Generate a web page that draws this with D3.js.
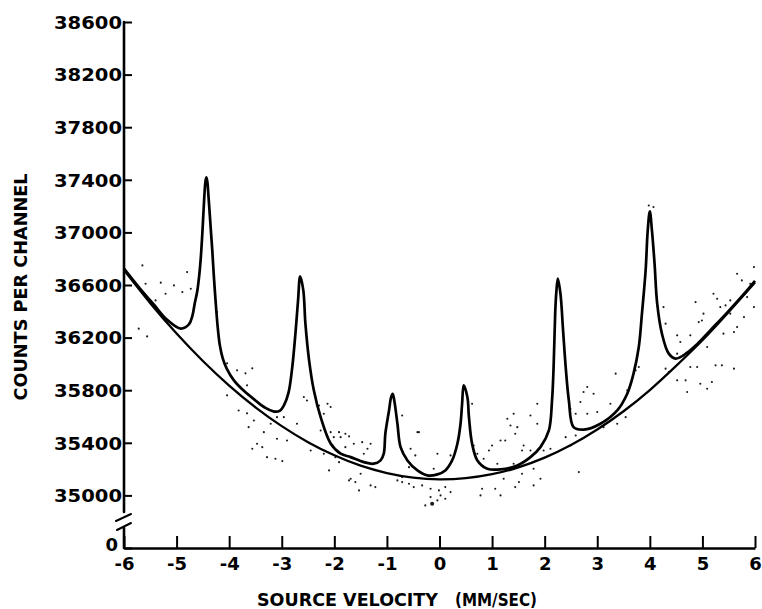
<!DOCTYPE html>
<html>
<head>
<meta charset="utf-8">
<script src="https://cdn.jsdelivr.net/npm/d3@7"></script>
<style>
  html, body { margin: 0; padding: 0; background: #ffffff; }
  svg { display: block; }
  text { font-family: "DejaVu Sans", sans-serif; fill: #000; }
</style>
</head>
<body>
<script>
// ---------------- DATA ----------------
const xTicks = [-6, -5, -4, -3, -2, -1, 0, 1, 2, 3, 4, 5, 6];
const yTicks = [0, 35000, 35400, 35800, 36200, 36600, 37000, 37400, 37800, 38200, 38600];

// parabolic background (velocity, counts)
const baseV = [-6, -5.5, -5, -4.5, -4, -3.5, -3, -2.5, -2, -1.5, -1, -0.5, 0, 0.5, 1, 1.5, 2, 2.5, 3, 3.5, 4, 4.5, 5, 5.5, 6];
const baseC = [36714, 36462, 36231, 36022, 35835, 35670, 35527, 35405, 35305, 35226, 35170, 35135, 35122, 35131, 35161, 35213, 35287, 35383, 35501, 35640, 35801, 35985, 36180, 36395, 36620];

// fitted six-line spectrum (velocity, counts)
const fitV = [-6, -5.7, -5.43, -5.18, -4.92, -4.766, -4.702, -4.654, -4.606, -4.568, -4.540, -4.511, -4.492, -4.473, -4.454, -4.435, -4.416, -4.397, -4.369, -4.344, -4.321, -4.291, -4.259, -4.221, -4.177, -4.122, -4.049, -3.91, -3.72, -3.50, -3.31, -3.16, -3.04, -2.95, -2.87, -2.80, -2.74, -2.69, -2.65, -2.59, -2.55, -2.48, -2.39, -2.26, -2.07, -1.88, -1.69, -1.44, -1.25, -1.12, -1.06, -1.03, -0.96, -0.92, -0.89, -0.86, -0.80, -0.74, -0.61, -0.42, -0.23, -0.04, 0.11, 0.24, 0.34, 0.40, 0.43, 0.46, 0.53, 0.56, 0.62, 0.72, 0.91, 1.16, 1.48, 1.73, 1.92, 2.08, 2.14, 2.17, 2.20, 2.22, 2.25, 2.30, 2.35, 2.40, 2.46, 2.55, 2.74, 3.06, 3.38, 3.57, 3.69, 3.79, 3.85, 3.92, 3.96, 4.00, 4.04, 4.09, 4.14, 4.23, 4.36, 4.49, 4.71, 4.90, 5.15, 5.47, 5.79, 6.0];
const fitC = [36725, 36575, 36450, 36335, 36268, 36300, 36361, 36462, 36555, 36678, 36805, 36988, 37129, 37269, 37377, 37418, 37388, 37297, 37137, 36993, 36863, 36665, 36483, 36293, 36141, 36042, 35966, 35875, 35795, 35722, 35665, 35639, 35643, 35692, 35783, 35976, 36230, 36483, 36665, 36559, 36306, 36027, 35799, 35595, 35395, 35317, 35291, 35253, 35241, 35266, 35317, 35469, 35646, 35748, 35773, 35722, 35545, 35367, 35266, 35190, 35152, 35160, 35190, 35266, 35393, 35545, 35697, 35837, 35748, 35595, 35393, 35266, 35203, 35198, 35228, 35291, 35367, 35494, 35722, 35976, 36384, 36536, 36648, 36534, 36255, 35976, 35722, 35519, 35500, 35545, 35646, 35773, 35926, 36128, 36382, 36711, 37015, 37160, 37015, 36762, 36458, 36230, 36078, 36040, 36085, 36150, 36255, 36390, 36532, 36632];

// measured points (velocity, counts)
const dotV = [-5.65, -5.59, -5.30, -5.05, -4.89, -4.73, -5.21, -5.72, -5.56, -5.40, -4.23, -4.04, -3.85, -3.69, -3.56, -3.66, -4.04, -3.82, -3.66, -3.53, -3.63, -3.34, -3.21, -3.09, -2.96, -3.09, -2.90, -3.47, -3.37, -3.28, -3.12, -2.99, -3.56, -2.52, -2.29, -2.13, -2.20, -2.26, -2.07, -2.01, -2.45, -2.20, -2.10, -2.71, -2.58, -4.80,
  -1.91, -1.79, -1.88, -1.72, -1.63, -1.47, -1.31, -1.37, -1.44, -1.79, -1.98, -1.91, -1.69, -1.60, -1.72, -1.50, -1.31, -1.22, -1.53, -0.80, -0.71, -0.58, -0.49, -0.33, -0.17, -0.01, 0.11, 0.21, 0.02, 0.11, -0.14, -0.27, -0.17, -0.04, -0.42, -0.46, -0.55, -0.04, 0.21, -0.11, -0.58, -0.71, 0.65, 0.72, 0.84, 0.94, 1.00, 1.16, 1.25, 1.35, 1.44, 1.60, 1.57, 1.73, 1.86, 0.84, 1.10, 1.41, 1.22, 1.06, 0.81, 0.78, 1.16, 1.44, 1.51, 1.57, 1.79, 1.92, 1.79, 2.11, 2.40, 2.49, 2.59, 2.65,
  -2.07, -0.71, -0.39, 0.62, 1.41, 1.29, 1.48, 1.86, 1.73, 1.98,
  3.98, 4.07, 4.26, 4.30, 4.52, 4.58, 4.77, 4.87, 4.93, 4.99, 5.02, 5.21, 5.28, 5.34, 5.44, 5.53, 5.66, 5.75, 5.91, 5.98, 5.85, 5.98, 5.79, 5.66, 5.53, 5.40, 5.60, 5.28, 5.09, 4.77, 4.90, 5.25, 5.37, 5.60, 4.52, 4.30, 4.36, 4.52, 4.68, 4.71, 4.96, 5.18, 5.09, 3.35, 3.57, 3.79, 3.73, 2.81, 2.74, 2.93, 2.68, 3.00, 3.25, 3.31, 3.54, 2.49, 2.59, 2.81, 3.38, 3.12];
const dotC = [36749, 36610, 36618, 36597, 36546, 36572, 36534, 36268, 36209, 36483, 36394, 36004, 35951, 35928, 35966, 35837, 35761, 35646, 35624, 35570, 35519, 35481, 35545, 35595, 35595, 35431, 35418, 35393, 35367, 35291, 35279, 35261, 35355, 35722, 35684, 35697, 35621, 35494, 35481, 35443, 35342, 35317, 35190, 35545, 35748, 36698,
  35481, 35469, 35443, 35449, 35393, 35405, 35393, 35355, 35317, 35367, 35291, 35253, 35127, 35101, 35114, 35165, 35076, 35063, 35038, 35114, 35101, 35089, 35063, 35076, 35051, 35038, 35063, 35025, 35000, 34975, 34937, 34924, 34987, 34962, 35481, 35304, 35355, 35317, 35304, 35203, 35215, 35139, 35380, 35317, 35279, 35342, 35380, 35418, 35418, 35532, 35469, 35380, 35342, 35342, 35545, 35215, 35241, 35241, 35127, 35051, 35051, 35000, 35000, 35063, 35101, 35165, 35203, 35127, 35076, 35355, 35443, 35380, 35456, 35177,
  35672, 35608, 35481, 35697, 35621, 35583, 35519, 35697, 35608, 35342,
  37205, 37193, 36432, 36306, 36217, 36166, 36217, 36470, 36318, 36330, 36382, 36534, 36496, 36432, 36445, 36483, 36686, 36635, 36610, 36736, 36508, 36432, 36356, 36280, 36382, 36230, 36242, 36306, 36128, 35976, 35976, 35989, 35989, 35964, 36078, 35964, 35938, 35875, 35875, 35786, 35849, 35862, 35811, 35926, 35799, 35976, 35951, 35824, 35786, 35773, 35710, 35634, 35697, 35621, 35595, 35659, 35621, 35621, 35545, 35519];

const xTitle1 = "SOURCE VELOCITY";
const xTitle2 = "(MM/SEC)";
const yTitle = "COUNTS PER CHANNEL";

// ---------------- CHART ----------------
const W = 762, H = 609;
const svg = d3.select("body").append("svg").attr("width", W).attr("height", H);
svg.append("rect").attr("width", W).attr("height", H).attr("fill", "#fff");

const x = d3.scaleLinear().domain([-6, 6]).range([124, 755]);
// broken axis: 0 sits on the x axis, main range 35000..38600
const y = d3.scaleLinear().domain([0, 34800, 38600]).range([548, 521.7, 22]);

const baseData = baseV.map((v, i) => ({ v, c: baseC[i] }));
const fitData = fitV.map((v, i) => ({ v, c: fitC[i] }));
const dots = dotV.map((v, i) => ({ v, c: dotC[i] }));

// scatter
svg.append("g").selectAll("circle").data(dots).enter().append("circle")
  .attr("cx", d => x(d.v)).attr("cy", d => y(d.c))
  .attr("r", d => d.c < 34940 && d.c > 34930 ? 2 : 1.05)
  .attr("fill", "#1a1a1a");

// background parabola
svg.append("path").datum(baseData)
  .attr("fill", "none").attr("stroke", "#000").attr("stroke-width", 2.3)
  .attr("d", d3.line().x(d => x(d.v)).y(d => y(d.c)).curve(d3.curveNatural));

// fitted curve
svg.append("path").datum(fitData)
  .attr("fill", "none").attr("stroke", "#000").attr("stroke-width", 2.7)
  .attr("stroke-linejoin", "round")
  .attr("d", d3.line().x(d => x(d.v)).y(d => y(d.c)).curve(d3.curveCatmullRom.alpha(0.5)));

// x axis
const fmt = d => (d < 0 ? "-" + Math.abs(d) : String(d));
const gx = svg.append("g").attr("transform", "translate(0,548)")
  .call(d3.axisBottom(x).tickValues(xTicks).tickSize(-12).tickSizeOuter(0).tickPadding(9).tickFormat(fmt));
gx.select(".domain").attr("stroke", "#000").attr("stroke-width", 2.6);
gx.selectAll(".tick line").attr("stroke", "#000").attr("stroke-width", 2);
gx.selectAll(".tick text").attr("font-size", 18).attr("font-weight", "bold")
  .attr("font-family", "DejaVu Sans").attr("fill", "#000");

// y axis (ticks inward, domain drawn by hand with a break)
const gy = svg.append("g").attr("transform", "translate(124,0)")
  .call(d3.axisLeft(y).tickValues(yTicks).tickSize(-8).tickPadding(3).tickFormat(d => String(d)));
gy.select(".domain").remove();
gy.selectAll(".tick line").attr("stroke", "#000").attr("stroke-width", 2);
gy.selectAll(".tick text").attr("font-size", 18).attr("font-weight", "bold")
  .attr("font-family", "DejaVu Sans").attr("fill", "#000")
  .attr("textLength", d => d === 0 ? null : 68).attr("lengthAdjust", "spacingAndGlyphs")
  .attr("dy", d => d === 0 ? "0.15em" : "0.35em")
  .attr("x", d => d === 0 ? -6 : -2);

const axisG = svg.append("g").attr("stroke", "#000").attr("fill", "none").attr("stroke-linecap", "round");
axisG.append("line").attr("x1", 124).attr("x2", 124).attr("y1", y(38600)).attr("y2", 512).attr("stroke-width", 2.6);
axisG.append("line").attr("x1", 124).attr("x2", 124).attr("y1", 528).attr("y2", 548).attr("stroke-width", 2.6);
// break marks
axisG.append("line").attr("x1", 116).attr("y1", 521).attr("x2", 131).attr("y2", 514).attr("stroke-width", 2);
axisG.append("line").attr("x1", 117).attr("y1", 530).attr("x2", 131).attr("y2", 523).attr("stroke-width", 2);

// titles
svg.append("text").attr("x", 257).attr("y", 606).attr("font-size", 17).attr("font-weight", "bold")
  .attr("textLength", 181).attr("lengthAdjust", "spacingAndGlyphs").text(xTitle1);
svg.append("text").attr("x", 455).attr("y", 606).attr("font-size", 17).attr("font-weight", "bold")
  .attr("textLength", 82).attr("lengthAdjust", "spacingAndGlyphs").text(xTitle2);
svg.append("text").attr("transform", "translate(27,287) rotate(-90)")
  .attr("text-anchor", "middle").attr("font-size", 17).attr("font-weight", "bold")
  .attr("textLength", 227).attr("lengthAdjust", "spacingAndGlyphs").text(yTitle);
</script>
</body>
</html>
